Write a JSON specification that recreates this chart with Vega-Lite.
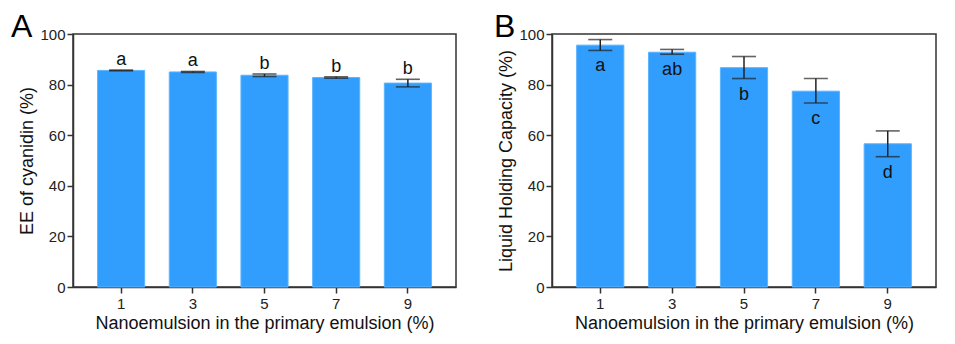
{
  "$schema": "https://vega.github.io/schema/vega-lite/v6.json",
  "background": "white",
  "padding": {"left": 10, "top": 10, "right": 5, "bottom": 5},
  "config": {
    "font": "Liberation Sans",
    "view": {"stroke": "#333333", "strokeWidth": 1.5},
    "concat": {"spacing": 36},
    "axis": {
      "grid": false,
      "domainColor": "#333333",
      "domainWidth": 1.5,
      "tickColor": "#333333",
      "tickWidth": 1.5,
      "labelColor": "#222222",
      "labelFontSize": 15,
      "titleColor": "#111111",
      "titleFontSize": 18,
      "titleFontWeight": "normal"
    },
    "title": {"fontSize": 32, "fontWeight": "normal", "color": "#000000", "anchor": "start", "frame": "bounds"}
  },
  "hconcat": [
    {
      "width": 383,
      "height": 253,
      "title": {"text": "A", "dx": -8, "dy": 10, "offset": -7},
      "data": {"values": [
        {"nano": "1", "value": 85.6, "lo": 85.45, "hi": 85.75, "label": "a"},
        {"nano": "3", "value": 85.0, "lo": 84.8, "hi": 85.2, "label": "a"},
        {"nano": "5", "value": 83.7, "lo": 83.2, "hi": 84.2, "label": "b"},
        {"nano": "7", "value": 82.8, "lo": 82.5, "hi": 83.1, "label": "b"},
        {"nano": "9", "value": 80.6, "lo": 79.1, "hi": 82.1, "label": "b"}
      ]},
      "encoding": {
        "x": {
          "field": "nano", "type": "nominal", "sort": ["1", "3", "5", "7", "9"],
          "scale": {"paddingInner": 0.343, "paddingOuter": 0.343},
          "axis": {"title": "Nanoemulsion in the primary emulsion (%)", "labelAngle": 0, "tickSize": 6, "labelPadding": 3, "titlePadding": 3}
        }
      },
      "layer": [
        {
          "mark": {"type": "bar", "color": "#319DFD", "stroke": "#5CB3FF", "strokeWidth": 1},
          "encoding": {
            "y": {
              "field": "value", "type": "quantitative",
              "scale": {"domain": [0, 100], "nice": false},
              "axis": {
                "title": "EE of cyanidin (%)",
                "values": [0, 10, 20, 30, 40, 50, 60, 70, 80, 90, 100],
                "labelExpr": "datum.value % 20 === 0 ? datum.label : ''",
                "tickSize": {"condition": {"test": "datum.value % 20 === 0", "value": 6}, "value": 3.5},
                "labelPadding": 2,
                "titlePadding": 3
              }
            }
          }
        },
        {
          "mark": {"type": "rule", "color": "#222222", "strokeWidth": 1.5},
          "encoding": {"y": {"field": "lo", "type": "quantitative"}, "y2": {"field": "hi"}}
        },
        {
          "mark": {"type": "tick", "color": "#222222", "thickness": 1.6, "size": 24},
          "encoding": {"y": {"field": "lo", "type": "quantitative"}}
        },
        {
          "mark": {"type": "tick", "color": "#222222", "thickness": 1.6, "size": 24},
          "encoding": {"y": {"field": "hi", "type": "quantitative"}}
        },
        {
          "mark": {"type": "text", "fontSize": 18, "color": "#111111", "baseline": "alphabetic", "dy": -5},
          "encoding": {"y": {"field": "hi", "type": "quantitative"}, "text": {"field": "label"}}
        }
      ]
    },
    {
      "width": 384,
      "height": 253,
      "title": {"text": "B", "dx": -4, "dy": 10, "offset": -7},
      "data": {"values": [
        {"nano": "1", "value": 95.6, "lo": 93.5, "hi": 97.8, "label": "a"},
        {"nano": "3", "value": 92.8, "lo": 92.0, "hi": 93.9, "label": "ab"},
        {"nano": "5", "value": 86.7, "lo": 82.4, "hi": 91.1, "label": "b"},
        {"nano": "7", "value": 77.4, "lo": 72.7, "hi": 82.4, "label": "c"},
        {"nano": "9", "value": 56.6, "lo": 51.5, "hi": 61.7, "label": "d"}
      ]},
      "encoding": {
        "x": {
          "field": "nano", "type": "nominal", "sort": ["1", "3", "5", "7", "9"],
          "scale": {"paddingInner": 0.343, "paddingOuter": 0.343},
          "axis": {"title": "Nanoemulsion in the primary emulsion (%)", "labelAngle": 0, "tickSize": 6, "labelPadding": 3, "titlePadding": 3}
        }
      },
      "layer": [
        {
          "mark": {"type": "bar", "color": "#319DFD", "stroke": "#5CB3FF", "strokeWidth": 1},
          "encoding": {
            "y": {
              "field": "value", "type": "quantitative",
              "scale": {"domain": [0, 100], "nice": false},
              "axis": {
                "title": "Liquid Holding Capacity (%)",
                "values": [0, 10, 20, 30, 40, 50, 60, 70, 80, 90, 100],
                "labelExpr": "datum.value % 20 === 0 ? datum.label : ''",
                "tickSize": {"condition": {"test": "datum.value % 20 === 0", "value": 6}, "value": 3.5},
                "labelPadding": 2,
                "titlePadding": 3
              }
            }
          }
        },
        {
          "mark": {"type": "rule", "color": "#222222", "strokeWidth": 1.5},
          "encoding": {"y": {"field": "lo", "type": "quantitative"}, "y2": {"field": "hi"}}
        },
        {
          "mark": {"type": "tick", "color": "#222222", "thickness": 1.6, "size": 24},
          "encoding": {"y": {"field": "lo", "type": "quantitative"}}
        },
        {
          "mark": {"type": "tick", "color": "#222222", "thickness": 1.6, "size": 24},
          "encoding": {"y": {"field": "hi", "type": "quantitative"}}
        },
        {
          "mark": {"type": "text", "fontSize": 18, "color": "#111111", "baseline": "alphabetic", "dy": 21},
          "encoding": {"y": {"field": "lo", "type": "quantitative"}, "text": {"field": "label"}}
        }
      ]
    }
  ]
}
